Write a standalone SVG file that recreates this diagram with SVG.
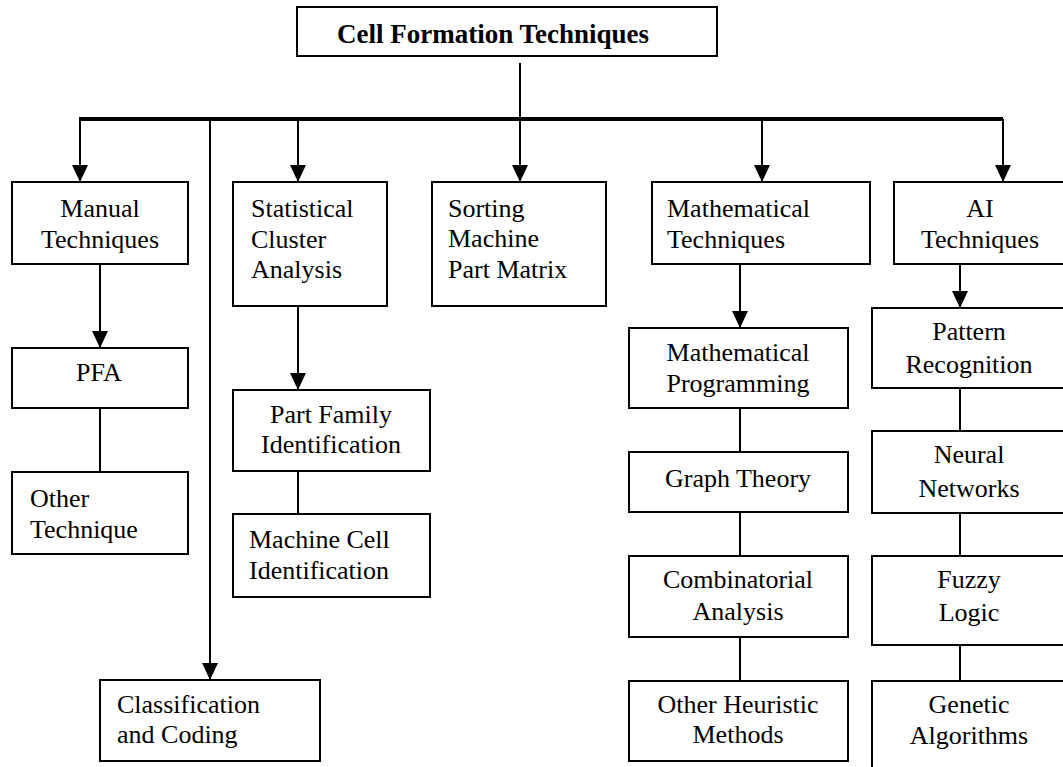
<svg xmlns="http://www.w3.org/2000/svg" width="1063" height="767" viewBox="0 0 1063 767">
<style>
.box{fill:#fff;stroke:#000;stroke-width:2}
.t{font-family:"Liberation Serif","Times New Roman",serif;font-size:26px;fill:#000}
.c{text-anchor:middle}
.title{font-family:"Liberation Serif","Times New Roman",serif;font-size:27px;font-weight:bold;fill:#000}
.ln{fill:none;stroke:#000;stroke-width:2}
.arr{marker-end:url(#ah)}
</style>
<defs>
<marker id="ah" markerUnits="userSpaceOnUse" markerWidth="18" markerHeight="16" refX="17" refY="8" orient="auto" viewBox="0 0 18 16">
<path d="M0,0 L17,8 L0,16 z" fill="#000"/>
</marker>
</defs>
<rect width="1063" height="767" fill="#fff"/>
<g id="connectors">
<path class="ln" d="M79,119 H1003" style="stroke-width:4"/>
<path class="ln arr" d="M520,63 V182"/>
<path class="ln arr" d="M80,119 V182"/>
<path class="ln arr" d="M210,119 V680"/>
<path class="ln arr" d="M298,119 V182"/>
<path class="ln arr" d="M762,119 V182"/>
<path class="ln arr" d="M1003,119 V182"/>
<path class="ln arr" d="M100,264 V348"/>
<path class="ln" d="M100,408 V472"/>
<path class="ln arr" d="M298,306 V390"/>
<path class="ln" d="M298,471 V514"/>
<path class="ln arr" d="M740,264 V328"/>
<path class="ln" d="M740,408 V452"/>
<path class="ln" d="M740,512 V556"/>
<path class="ln" d="M740,637 V681"/>
<path class="ln arr" d="M960,264 V308"/>
<path class="ln" d="M960,388 V431"/>
<path class="ln" d="M960,513 V556"/>
<path class="ln" d="M960,645 V681"/>
</g>
<g id="root">
<rect class="box" x="297" y="7" width="420" height="49"/>
<text class="title" x="337" y="43">Cell Formation Techniques</text>
</g>
<g id="manual">
<rect class="box" x="12" y="182" width="176" height="82"/>
<text class="t c" x="100" y="217">Manual</text>
<text class="t c" x="100" y="248">Techniques</text>
</g>
<g id="statistical">
<rect class="box" x="233" y="182" width="154" height="124"/>
<text class="t" x="251" y="217">Statistical</text>
<text class="t" x="251" y="248">Cluster</text>
<text class="t" x="251" y="278">Analysis</text>
</g>
<g id="sorting">
<rect class="box" x="432" y="182" width="174" height="124"/>
<text class="t" x="448" y="217">Sorting</text>
<text class="t" x="448" y="247">Machine</text>
<text class="t" x="448" y="278">Part Matrix</text>
</g>
<g id="mathematical">
<rect class="box" x="652" y="182" width="218" height="82"/>
<text class="t" x="667" y="217">Mathematical</text>
<text class="t" x="667" y="248">Techniques</text>
</g>
<g id="ai">
<rect class="box" x="894" y="182" width="172" height="82"/>
<text class="t c" x="980" y="217">AI</text>
<text class="t c" x="980" y="248">Techniques</text>
</g>
<g id="pfa">
<rect class="box" x="12" y="348" width="176" height="60"/>
<text class="t c" x="99" y="381">PFA</text>
</g>
<g id="other-technique">
<rect class="box" x="12" y="472" width="176" height="82"/>
<text class="t" x="30" y="507">Other</text>
<text class="t" x="30" y="538">Technique</text>
</g>
<g id="classification">
<rect class="box" x="100" y="680" width="220" height="81"/>
<text class="t" x="117" y="713">Classification</text>
<text class="t" x="117" y="743">and Coding</text>
</g>
<g id="part-family">
<rect class="box" x="233" y="390" width="197" height="81"/>
<text class="t c" x="331" y="423">Part Family</text>
<text class="t c" x="331" y="453">Identification</text>
</g>
<g id="machine-cell">
<rect class="box" x="233" y="514" width="197" height="83"/>
<text class="t" x="249" y="548">Machine Cell</text>
<text class="t" x="249" y="579">Identification</text>
</g>
<g id="math-programming">
<rect class="box" x="629" y="328" width="219" height="80"/>
<text class="t c" x="738" y="361">Mathematical</text>
<text class="t c" x="738" y="392">Programming</text>
</g>
<g id="graph-theory">
<rect class="box" x="629" y="452" width="219" height="60"/>
<text class="t c" x="738" y="487">Graph Theory</text>
</g>
<g id="combinatorial">
<rect class="box" x="629" y="556" width="219" height="81"/>
<text class="t c" x="738" y="588">Combinatorial</text>
<text class="t c" x="738" y="620">Analysis</text>
</g>
<g id="other-heuristic">
<rect class="box" x="629" y="681" width="219" height="80"/>
<text class="t c" x="738" y="713">Other Heuristic</text>
<text class="t c" x="738" y="743">Methods</text>
</g>
<g id="pattern">
<rect class="box" x="872" y="308" width="194" height="80"/>
<text class="t c" x="969" y="340">Pattern</text>
<text class="t c" x="969" y="373">Recognition</text>
</g>
<g id="neural">
<rect class="box" x="872" y="431" width="194" height="82"/>
<text class="t c" x="969" y="463">Neural</text>
<text class="t c" x="969" y="497">Networks</text>
</g>
<g id="fuzzy">
<rect class="box" x="872" y="556" width="194" height="89"/>
<text class="t c" x="969" y="588">Fuzzy</text>
<text class="t c" x="969" y="621">Logic</text>
</g>
<g id="genetic">
<rect class="box" x="872" y="681" width="194" height="100"/>
<text class="t c" x="969" y="713">Genetic</text>
<text class="t c" x="969" y="744">Algorithms</text>
</g>
</svg>
